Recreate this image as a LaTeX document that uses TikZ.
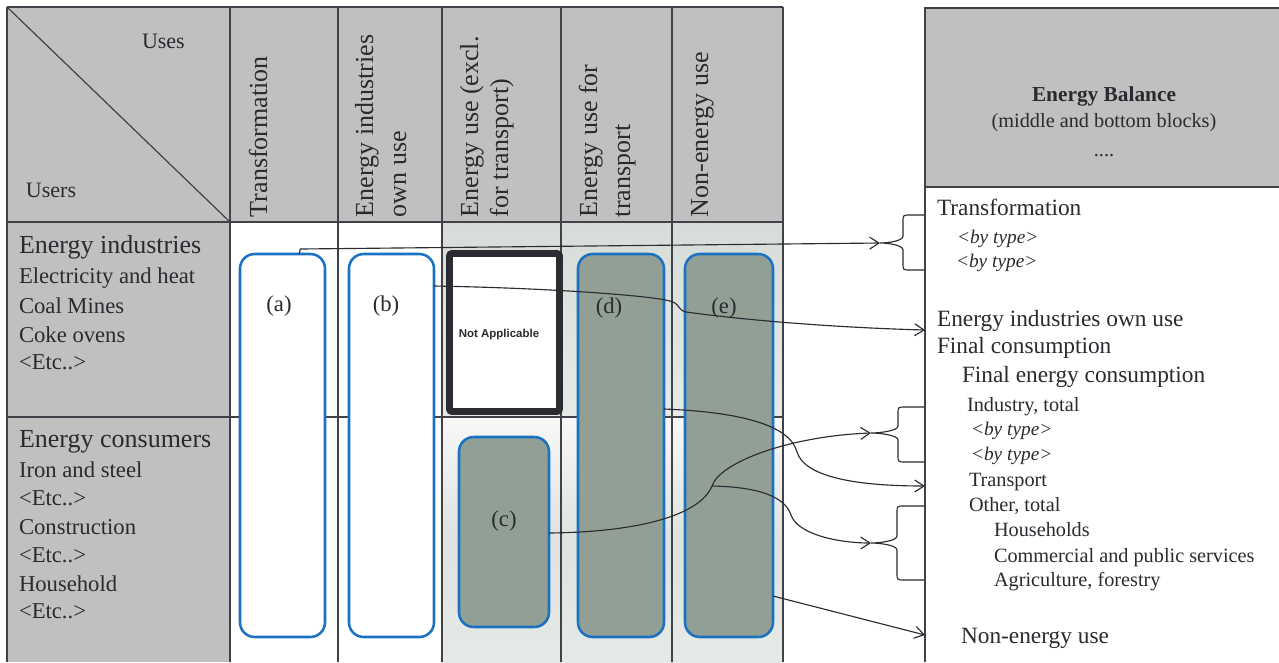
\documentclass[tikz,border=0pt]{standalone}
\usepackage{fontspec}
\setmainfont{Liberation Serif}
\newfontfamily\nasans{Liberation Sans}
\usetikzlibrary{arrows.meta,fit}
\definecolor{hdrgray}{HTML}{C0C0C0}
\definecolor{gridc}{HTML}{414149}
\definecolor{boxblue}{HTML}{1B72C2}
\definecolor{boxgreen}{HTML}{919F95}
\definecolor{paleA}{HTML}{D6DDD8}
\definecolor{paleB}{HTML}{E6EAE7}
\definecolor{paleC}{HTML}{F7F8F7}
\definecolor{paleD}{HTML}{DEE3DF}
\definecolor{ink}{HTML}{2B2B31}
\definecolor{txt}{HTML}{2A2A30}
\tikzset{
 x=0.75pt, y=-0.75pt,
 grid/.style={draw=gridc, line width=1.2pt},
 rbox/.style={draw=boxblue, line width=1.9pt, rounded corners=11pt, inner sep=0pt, outer sep=0pt},
 wbox/.style={rbox, fill=white},
 gbox/.style={rbox, fill=boxgreen},
 nabox/.style={draw=ink, line width=5.2pt, fill=white, rounded corners=2pt, inner sep=0pt, outer sep=0pt},
 conn/.style={draw=ink, line width=0.85pt, -{Straight Barb[length=7pt,width=9pt,line width=0.85pt]}},
 bracestyle/.style={draw=ink, line width=0.85pt},
 tx/.style={inner sep=0pt, outer sep=0pt, text=txt, anchor=base west},
 lhead/.style={tx, font=\fontsize{19.5}{23}\selectfont},
 litem/.style={tx, font=\fontsize{17}{20}\selectfont},
 colhead/.style={tx, rotate=90, font=\fontsize{19.5}{23}\selectfont},
 cornertx/.style={tx, font=\fontsize{16.5}{20}\selectfont},
 rbig/.style={tx, font=\fontsize{17.5}{21}\selectfont},
 rsmall/.style={tx, font=\fontsize{15.2}{18}\selectfont},
 rital/.style={tx, font=\fontsize{14.5}{17}\selectfont\itshape},
 lab/.style={inner sep=0pt, outer sep=0pt, text=txt, anchor=base, font=\fontsize{17}{20}\selectfont},
}
\begin{document}
\begin{tikzpicture}
\useasboundingbox (0,0) rectangle (1279,662);
\fill[white] (0,0) rectangle (1279,662);
% backgrounds
\fill[hdrgray] (7,7) rectangle (230,662);
\fill[hdrgray] (7,7) rectangle (783,222);
\shade[top color=paleA, bottom color=paleB] (442,222) rectangle (783,417);
\shade[top color=paleC, bottom color=paleB, middle color=paleD] (442,417) rectangle (783,662);
% grid of the table
\foreach \xx in {7,230,338,442,561,672,783} \draw[grid] (\xx,7) -- (\xx,662);
\draw[grid] (7,7) -- (783,7);
\draw[grid] (7,222) -- (783,222);
\draw[grid, line width=0.8pt] (7,417) -- (783,417);
\draw[grid, line width=0.9pt] (7,7) -- (230,222);
% right panel
\fill[hdrgray] (925,8) rectangle (1285,187);
\draw[grid] (925,662) -- (925,8) -- (1285,8);
\draw[grid] (925,187) -- (1285,187);
% boxes
\node[wbox, fit={(240,254) (325,637)}] (a) {};
\node[wbox, fit={(349,254) (434,637)}] (b) {};
\node[nabox, fit={(449.5,253.5) (559.5,411.5)}] (na) {};
\node[gbox, fit={(459,437) (549,627)}] (c) {};
\node[gbox, fit={(578,254) (664,637)}] (d) {};
\node[gbox, fit={(685,254) (773,637)}] (e) {};
\node[lab] (la) at (279,311) {(a)};
\node[lab] (lb) at (386,311) {(b)};
\node[lab] (lc) at (504,526) {(c)};
\node[lab] (ld) at (609,313) {(d)};
\node[lab] (le) at (724,313) {(e)};
\node[inner sep=0pt, anchor=base, text=txt, font=\nasans\bfseries\fontsize{8.6}{10}\selectfont] (natx) at (499,337) {Not Applicable};
% targets
\coordinate (br1) at (880,243);
\coordinate (br2) at (871,433);
\coordinate (br3) at (871,543);
\coordinate (in2) at (925,330);
\coordinate (in3) at (925,486);
\coordinate (in6) at (925,635);
\coordinate (jn) at (712,486);
% braces
\draw[bracestyle] (925,215) -- (910,215) .. controls (903,215) .. (903,222) -- (903,236)
  .. controls (903,241) and (888,243) .. (br1) .. controls (888,243) and (903,245) .. (903,250)
  -- (903,263) .. controls (903,270) .. (910,270) -- (925,270);
\draw[bracestyle] (925,407) -- (905,407) .. controls (898,407) .. (898,414) -- (898,426)
  .. controls (898,431) and (879,433) .. (br2) .. controls (879,433) and (898,435) .. (898,440)
  -- (898,455) .. controls (898,462) .. (905,462) -- (925,462);
\draw[bracestyle] (925,506) -- (904,506) .. controls (897,506) .. (897,513) -- (897,536)
  .. controls (897,541) and (879,543) .. (br3) .. controls (879,543) and (897,545) .. (897,550)
  -- (897,573) .. controls (897,580) .. (904,580) -- (925,580);
% connectors
\draw[conn] (a.85) -- ++(1,-5) -- (br1);
\draw[conn] (b.east |- 0,286) .. controls (550,288) and (660,296) .. (673,302)
  .. controls (680,305) and (678,310) .. (686,312) .. controls (760,322) and (850,328) .. (in2);
\draw[conn] (d.east |- 0,409) .. controls (740,412) and (790,425) .. (797,452)
  .. controls (805,478) and (860,486) .. (in3);
\draw[conn] (c.east |- 0,533) .. controls (640,532) and (700,515) .. (jn)
  .. controls (720,462) and (790,436) .. (br2);
\draw[conn] (jn) .. controls (760,487) and (785,497) .. (791,515)
  .. controls (798,535) and (840,543) .. (br3);
\draw[conn] (e.east |- 0,596) -- (in6);
% corner texts
\node[cornertx] (uses) at (142,48) {Uses};
\node[cornertx] (users) at (26,197) {Users};
% column headers
\node[colhead] (h1) at (267,217) {Transformation};
\node[colhead] (h2a) at (373,217) {Energy industries};
\node[colhead] (h2b) at (406,217) {own use};
\node[colhead] (h3a) at (478,217) {Energy use (excl.};
\node[colhead] (h3b) at (508,217) {for transport)};
\node[colhead] (h4a) at (597,217) {Energy use for};
\node[colhead] (h4b) at (630,217) {transport};
\node[colhead] (h5) at (708,217) {Non-energy use};
% row headers
\node[lhead] (r1) at (19,253) {Energy industries};
\node[litem] (r1a) at (19,283) {Electricity and heat};
\node[litem] (r1b) at (19,313) {Coal Mines};
\node[litem] (r1c) at (19,342) {Coke ovens};
\node[litem] (r1d) at (19,369) {<Etc..>};
\node[lhead] (r2) at (19,447) {Energy consumers};
\node[litem] (r2a) at (19,477) {Iron and steel};
\node[litem] (r2b) at (19,505) {<Etc..>};
\node[litem] (r2c) at (19,534) {Construction};
\node[litem] (r2d) at (19,562) {<Etc..>};
\node[litem] (r2e) at (19,591) {Household};
\node[litem] (r2f) at (19,618) {<Etc..>};
% right panel header
\node[inner sep=0pt, anchor=base, text=txt, font=\fontsize{16}{19}\selectfont\bfseries] (eb) at (1104,101) {Energy Balance};
\node[inner sep=0pt, anchor=base, text=txt, font=\fontsize{15.2}{18}\selectfont] (ebs) at (1104,127) {(middle and bottom blocks)};
\node[inner sep=0pt, anchor=base, text=txt, font=\fontsize{15.2}{18}\selectfont] (ebd) at (1104,156) {....};
% right panel items
\node[rbig] (p1) at (937,215) {Transformation};
\node[rital] (p1a) at (957,243) {<by type>};
\node[rital] (p1b) at (956,267) {<by type>};
\node[rbig] (p2) at (937,326) {Energy industries own use};
\node[rbig] (p3) at (937,353) {Final consumption};
\node[rbig] (p4) at (962,382) {Final energy consumption};
\node[rsmall] (p5) at (967,411) {Industry, total};
\node[rital] (p5a) at (971,435) {<by type>};
\node[rital] (p5b) at (971,460) {<by type>};
\node[rsmall] (p6) at (969,486) {Transport};
\node[rsmall] (p7) at (969,511) {Other, total};
\node[rsmall] (p7a) at (994,536) {Households};
\node[rsmall] (p7b) at (994,562) {Commercial and public services};
\node[rsmall] (p7c) at (994,586) {Agriculture, forestry};
\node[rbig] (p8) at (961,643) {Non-energy use};
\end{tikzpicture}
\end{document}
